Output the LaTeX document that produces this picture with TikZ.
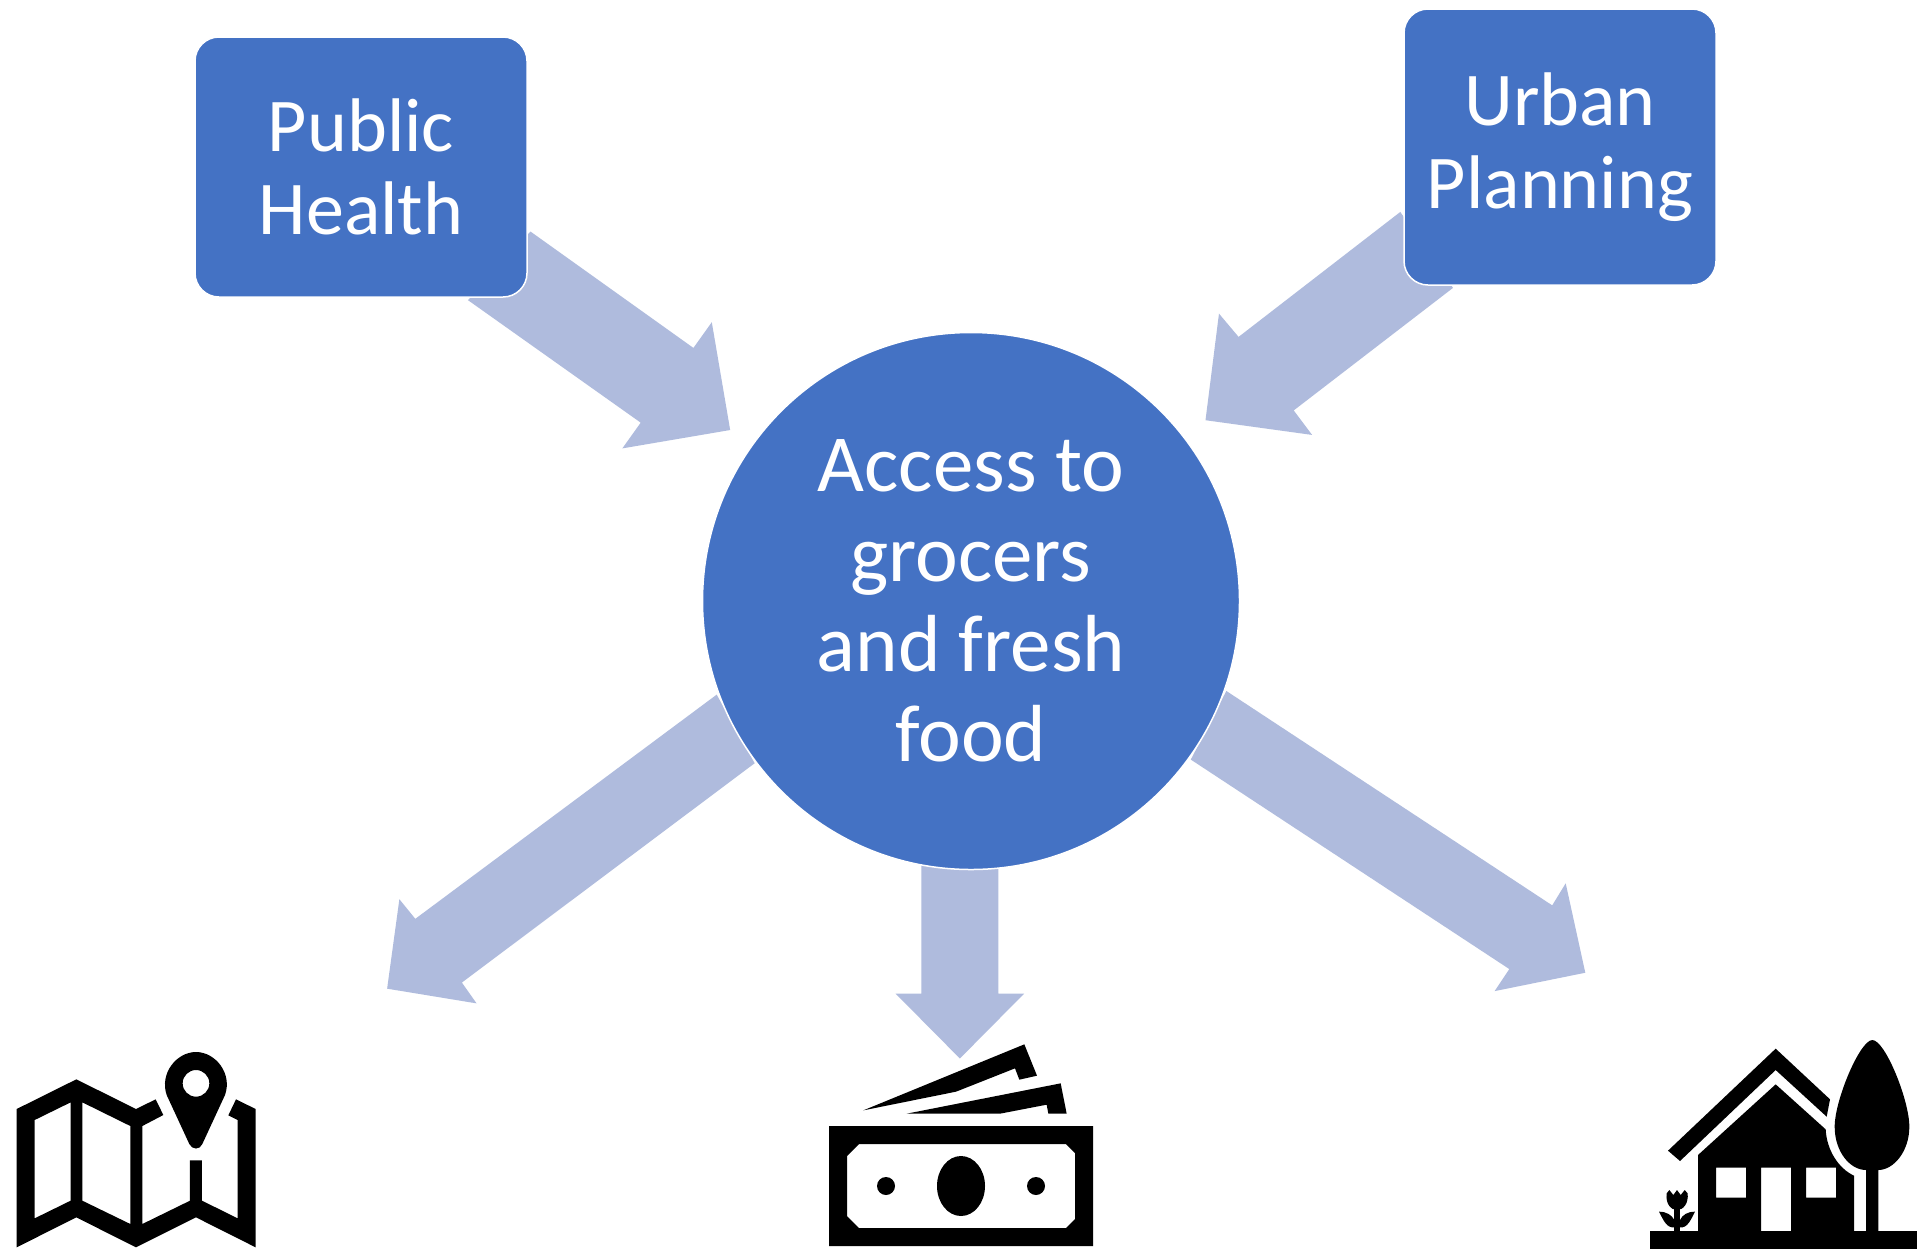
\documentclass[tikz,border=0pt]{standalone}
\usepackage{fontspec}
\setmainfont{Carlito}
\definecolor{blk}{HTML}{4472C4}
\definecolor{arw}{HTML}{AFBBDD}
\tikzset{
  ov/.style={x=1.2251pt,y=-1.2251pt},
  arrowshape/.style={fill=arw,draw=none},
  box/.style={rectangle,rounded corners=24pt,fill=blk,draw=white,line width=1.5pt,text=white,align=center,inner sep=0pt,minimum width=332pt,minimum height=260pt,font=\fontsize{76}{83}\selectfont},
  hub/.style={circle,fill=blk,draw=white,line width=1.5pt,text=white,align=center,inner sep=0pt,minimum size=537pt,font=\fontsize{81}{90}\selectfont},
  icon/.style={fill=black,draw=none,even odd rule},
}
\begin{document}
\begin{tikzpicture}[x=1pt,y=-1pt]
\useasboundingbox (0,0) rectangle (1921,1254);
\fill[white] (0,0) rectangle (1921,1254);
% block arrows
\begin{scope}[ov]
\fill[arrowshape] (433,189) -- (566,284) -- (581,263) -- (596,351) -- (508,366) -- (523,345) -- (382,245) -- cycle;
\fill[arrowshape] (1143,173) -- (1011,275) -- (995,256) -- (984,343) -- (1071,355) -- (1056,335) -- (1186,235) -- cycle;
\fill[arrowshape] (585,567) -- (339,750) -- (326,734) -- (316,807) -- (389,819) -- (377,802) -- (616,623) -- cycle;
\fill[arrowshape] (752,700) -- (752,811) -- (731,811) -- (783.5,864) -- (836,811) -- (815,811) -- (815,700) -- cycle;
\fill[arrowshape] (1001,564) -- (1267,739) -- (1278,721) -- (1294,794) -- (1220,809) -- (1232,791) -- (972,620) -- cycle;
\end{scope}
% nodes
\node[box] (health) at (361,167) {Public\\Health};
\node[box,minimum width=312pt,minimum height=276pt] (urban) at (1560,147) {Urban\\Planning};
\node[hub] (hub) at (971,601) {Access to\\grocers\\and fresh\\food};
% map icon
\begin{scope}[shift={(0,1000)},x=0.33333pt,y=-0.33333pt]
\fill[icon] (50,327) -- (229,238) -- (408,327) -- (467,298) -- (490,345) -- (427,378) -- (427,672) -- (570,602) -- (570,481) -- (606,481) -- (606,602) -- (713,655) -- (713,360) -- (685,346) -- (708,298) -- (767,327) -- (767,742) -- (588,652) -- (408,742) -- (229,652) -- (50,742) -- cycle
 (104,360) -- (212,307) -- (212,602) -- (104,655) -- cycle
 (247,307) -- (391,378) -- (391,672) -- (247,602) -- cycle;
\fill[icon] (568,432) -- (500,285) .. controls (478,220) and (530,156) .. (588,156) .. controls (646,156) and (698,220) .. (675,285) -- (607,432) .. controls (600,450) and (576,450) .. (568,432) -- cycle
 (628,250) arc[start angle=0,end angle=360,radius=40];
\end{scope}
% money icon
\begin{scope}[shift={(800,1020)},x=0.33333pt,y=-0.33333pt]
\fill[icon] (87,318) rectangle (879,678)
 (177,372) -- (798,372) -- (825,399) -- (825,597) -- (798,624) -- (177,624) -- (141,588) -- (141,408) -- cycle;
\fill[icon] (483,498) ellipse[x radius=72,y radius=90];
\fill[icon] (258,498) circle[radius=27];
\fill[icon] (708,498) circle[radius=27];
\fill[icon] (190,271) -- (673,73) -- (711,167) -- (658,179) -- (645,145) -- (468,215) -- cycle;
\fill[icon] (320,281) -- (782,190) -- (800,281) -- (745,281) -- (740,254) -- (600,281) -- cycle;
\end{scope}
% house icon
\begin{scope}[shift={(1630,1020)},x=0.33333pt,y=-0.33333pt]
\fill[icon] (60,633) rectangle (861,687);
\fill[icon] (437,86) -- (600,238) -- (590,290) -- (437,150) -- (150,423) -- (114,392) -- cycle;
\fill[icon] (204,405) -- (437,193) -- (587,328) .. controls (590,390) and (625,445) .. (672,467) -- (672,640) -- (204,640) -- cycle
 (258,443) rectangle (348,533)
 (393,443) -- (483,443) -- (483,633) -- (393,633) -- cycle
 (528,443) rectangle (618,533);
\fill[icon] (727,60) .. controls (765,60) and (838,240) .. (838,320) .. controls (838,395) and (790,450) .. (745,450) -- (745,640) -- (708,640) -- (708,450) .. controls (660,450) and (614,395) .. (614,320) .. controls (614,240) and (690,60) .. (727,60) -- cycle;
\fill[icon] (110,520) -- (118,510) -- (130,525) -- (141,510) -- (152,525) -- (164,510) -- (173,520) .. controls (176,550) and (160,570) .. (141,570) .. controls (122,570) and (106,550) .. (110,520) -- cycle;
\fill[icon] (133,560) rectangle (150,640);
\fill[icon] (87,575) .. controls (110,575) and (125,585) .. (133,600) -- (133,622) .. controls (110,625) and (100,600) .. (87,575) -- cycle;
\fill[icon] (195,575) .. controls (172,575) and (157,585) .. (150,600) -- (150,622) .. controls (172,625) and (182,600) .. (195,575) -- cycle;
\end{scope}
\end{tikzpicture}
\end{document}
